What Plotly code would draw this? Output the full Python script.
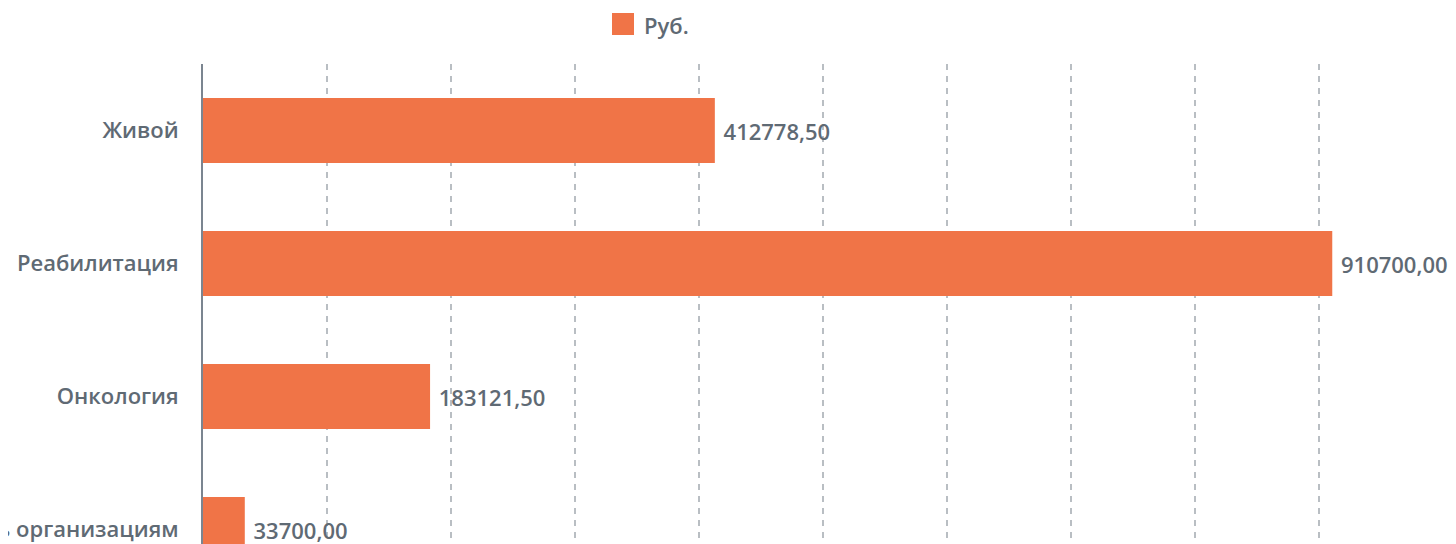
import plotly.graph_objects as go

categories = ["Живой", "Реабилитация", "Онкология", "Помощь организациям"]
values = [412778.50, 910700.00, 183121.50, 33700.00]
value_labels = ["412778,50", "910700,00", "183121,50", "33700,00"]
series_name = "Руб."

BAR = "#F07447"
TXT = "#5f6a74"
FONT = "'Open Sans', 'DejaVu Sans', sans-serif"
FS = 22
OX, OY = 8, 8  # page body offset
X0 = 203
L, T = X0 - OX, 64 - OY
PW, PH = 1239, 480

fig = go.Figure()
fig.add_trace(go.Bar(
    y=categories, x=values, orientation="h", name=series_name,
    marker=dict(color=BAR, line=dict(width=0)),
    width=0.49,
    text=[" " + t for t in value_labels], textposition="outside",
    textfont=dict(color=TXT, size=FS, family=FONT, weight=600),
    cliponaxis=False, showlegend=False,
))

fig.update_layout(
    width=1456, height=544,
    margin=dict(l=L, r=1456 - L - PW, t=T, b=544 - T - PH),
    plot_bgcolor="white", paper_bgcolor="white",
    font=dict(family=FONT, color=TXT, size=FS),
    showlegend=False,
    xaxis=dict(range=[0, 999200], dtick=100000, showticklabels=False,
               showgrid=True, gridcolor="#b9bec3", griddash="6px,6px", gridwidth=1.5,
               zeroline=False, showline=False),
    yaxis=dict(type="category", categoryorder="array", categoryarray=categories,
               range=[3.109, -0.5], showgrid=False, zeroline=False,
               showline=True, linecolor="#7b8590", linewidth=2,
               ticklabelstandoff=18, automargin=False,
               tickfont=dict(size=FS, color=TXT, family=FONT, weight=600)),
)

# legend drawn as swatch + label
fig.add_shape(type="rect", xref="paper", yref="paper",
              x0=(612 - X0) / PW, x1=(634 - X0) / PW,
              y0=1 + (64 - 35) / PH, y1=1 + (64 - 13) / PH,
              fillcolor=BAR, line=dict(width=0))
fig.add_annotation(xref="paper", yref="paper", x=(642 - X0) / PW, y=1 + (64 - 25) / PH,
                   text=series_name, showarrow=False, xanchor="left", yanchor="middle",
                   font=dict(size=FS, color=TXT, family=FONT, weight=600))

fig.write_html("out.html")
